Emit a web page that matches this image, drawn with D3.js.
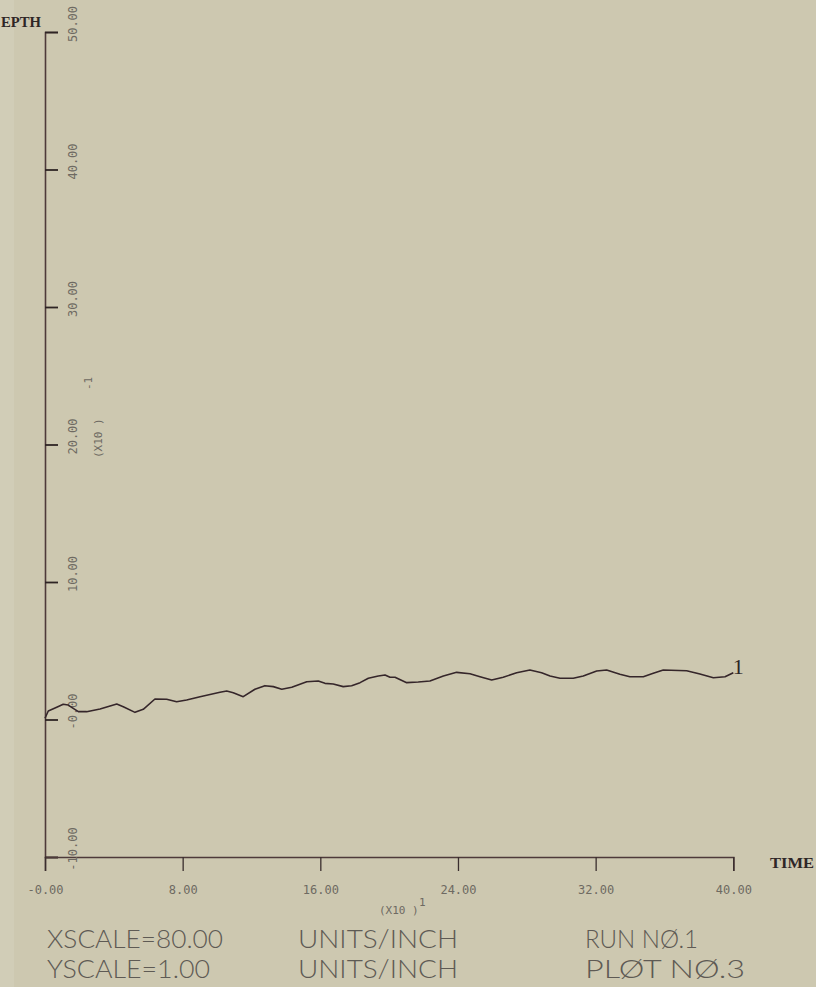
<!DOCTYPE html>
<html><head><meta charset="utf-8">
<script src="https://cdn.jsdelivr.net/npm/d3@7"></script>
<style>
html,body{margin:0;padding:0;background:#cdc8b0;}
svg{display:block;}
</style></head>
<body>
<script>
// ---- data ----
const xTickValues = [0, 8, 16, 24, 32, 40];
const xTickLabels = ["-0.00", "8.00", "16.00", "24.00", "32.00", "40.00"];
const yTickValues = [-10, 0, 10, 20, 30, 40, 50];
const yTickLabels = ["-10.00", "-0.00", "10.00", "20.00", "30.00", "40.00", "50.00"];
const seriesTime = [0, 0.19, 0.68, 1.06, 1.35, 1.64, 1.94, 2.42, 3.20, 4.17, 4.55, 5.23, 5.71, 6.39, 7.07, 7.65, 8.23, 9.01,
  10.17, 10.56, 10.94, 11.52, 12.20, 12.78, 13.27, 13.76, 14.34, 15.21, 15.88, 16.27, 16.75, 17.33, 17.82, 18.31, 18.79,
  19.37, 19.76, 20.05, 20.34, 21.02, 21.69, 22.37, 23.15, 23.92, 24.70, 25.28, 25.96, 26.63, 27.41, 28.18, 28.86, 29.35,
  29.93, 30.70, 31.28, 32.06, 32.64, 33.41, 33.99, 34.77, 35.35, 35.93, 37.29, 38.06, 38.84, 39.52, 40.0];
const seriesDepth = [0.09, 0.62, 0.89, 1.11, 1.05, 0.81, 0.57, 0.57, 0.76, 1.13, 0.93, 0.52, 0.74, 1.49, 1.47, 1.29, 1.42, 1.66,
  1.98, 2.07, 1.95, 1.66, 2.20, 2.46, 2.39, 2.20, 2.34, 2.75, 2.80, 2.63, 2.58, 2.39, 2.46, 2.68, 3.00,
  3.16, 3.24, 3.07, 3.07, 2.68, 2.73, 2.80, 3.16, 3.43, 3.33, 3.11, 2.87, 3.07, 3.40, 3.60, 3.40, 3.16,
  3.00, 3.00, 3.16, 3.53, 3.60, 3.29, 3.11, 3.11, 3.36, 3.60, 3.55, 3.31, 3.04, 3.11, 3.40];
const yAxisTitle = "EPTH";
const xAxisTitle = "TIME";
const yMultiplier = ["(X10 )", "-1"];
const xMultiplier = ["(X10 )", "1"];
const curveLabel = "1";
const footerRow1 = ["XSCALE=80.00", "UNITS/INCH", "RUN NØ.1"];
const footerRow2 = ["YSCALE=1.00", "UNITS/INCH", "PLØT NØ.3"];

// ---- drawing ----
const W = 816, H = 987;
const svg = d3.select("body").append("svg").attr("width", W).attr("height", H);
svg.append("rect").attr("width", W).attr("height", H).attr("fill", "#cdc8b0");
// scanned-paper lighter strip on the left
svg.append("rect").attr("x", 0).attr("y", 0).attr("width", 14).attr("height", H).attr("fill", "#d4d0bd").attr("opacity", 0.6);

const x = d3.scaleLinear().domain([0, 40]).range([45, 733.3]);
const y = d3.scaleLinear().domain([-10, 50]).range([857, 32]);

const axisColor = "#4e3a3a";
const labelColor = "#6e6a62";

// y axis (ticks pointing inward)
const gy = svg.append("g").attr("transform", "translate(45,0)")
  .call(d3.axisRight(y).tickValues(yTickValues).tickSize(13).tickSizeOuter(13).tickFormat(""));
gy.select(".domain").attr("stroke", axisColor).attr("stroke-width", 1.6);
gy.selectAll(".tick line").attr("stroke", "#2e2424").attr("stroke-width", 1.8);

// x axis (ticks pointing down)
const gx = svg.append("g").attr("transform", "translate(0,857)")
  .call(d3.axisBottom(x).tickValues(xTickValues).tickSize(14).tickSizeOuter(14).tickPadding(14)
    .tickFormat((d, i) => xTickLabels[i]));
gx.select(".domain").attr("stroke", axisColor).attr("stroke-width", 1.6);
gx.selectAll(".tick line").attr("stroke", "#3a2e2e").attr("stroke-width", 1.3);
gx.selectAll(".tick text").attr("fill", labelColor).attr("font-family", "DejaVu Sans Mono, monospace")
  .attr("font-size", 12);

// y tick labels, rotated
svg.append("g").selectAll("text").data(yTickValues).join("text")
  .attr("transform", d => `translate(73,${y(d) - 8}) rotate(-90)`)
  .attr("text-anchor", "middle").attr("dominant-baseline", "central")
  .attr("font-family", "DejaVu Sans Mono, monospace").attr("font-size", 12)
  .attr("fill", labelColor)
  .text((d, i) => yTickLabels[i]);

// y multiplier
svg.append("text").attr("transform", "translate(98,458) rotate(-90)")
  .attr("dominant-baseline", "central").attr("font-family", "DejaVu Sans Mono, monospace")
  .attr("font-size", 11).attr("fill", labelColor).text(yMultiplier[0]);
svg.append("text").attr("transform", "translate(88,390) rotate(-90)")
  .attr("dominant-baseline", "central").attr("font-family", "DejaVu Sans Mono, monospace")
  .attr("font-size", 11).attr("fill", labelColor).text(yMultiplier[1]);

// x multiplier
svg.append("text").attr("x", 379).attr("y", 914).attr("font-family", "DejaVu Sans Mono, monospace")
  .attr("font-size", 11).attr("fill", labelColor).text(xMultiplier[0]);
svg.append("text").attr("x", 419).attr("y", 906).attr("font-family", "DejaVu Sans Mono, monospace")
  .attr("font-size", 11).attr("fill", labelColor).text(xMultiplier[1]);

// axis titles
svg.append("text").attr("x", 1).attr("y", 27).attr("font-family", "Liberation Serif, serif")
  .attr("font-weight", "bold").attr("font-size", 15).attr("fill", "#2e2626")
  .attr("textLength", 40).attr("lengthAdjust", "spacingAndGlyphs").text(yAxisTitle);
svg.append("text").attr("x", 770).attr("y", 868).attr("font-family", "Liberation Serif, serif")
  .attr("font-weight", "bold").attr("font-size", 15).attr("fill", "#2e2626")
  .attr("textLength", 44).attr("lengthAdjust", "spacingAndGlyphs").text(xAxisTitle);

// curve
const pts = seriesTime.map((t, i) => [t, seriesDepth[i]]);
svg.append("path").datum(pts)
  .attr("fill", "none").attr("stroke", "#35262a").attr("stroke-width", 1.6).attr("stroke-linejoin", "round")
  .attr("d", d3.line().x(d => x(d[0])).y(d => y(d[1])));
const last = pts[pts.length - 1];
svg.append("text").attr("x", x(last[0]) + 5).attr("y", y(last[1]) + 1)
  .attr("text-anchor", "middle").attr("font-family", "Liberation Serif, serif")
  .attr("font-size", 22).attr("fill", "#2e2626").text(curveLabel);

// footer
const footX = [47, 298, 585];
const footW1 = [176, 160, 113];
const footW2 = [163, 160, 160];
function footer(row, yy, widths) {
  svg.append("g").selectAll("text").data(row).join("text")
    .attr("x", (d, i) => footX[i]).attr("y", yy)
    .attr("font-family", "Lato, Noto Sans, sans-serif").attr("font-weight", 300)
    .attr("font-size", 26).attr("fill", "#5e5a54")
    .attr("textLength", (d, i) => widths[i]).attr("lengthAdjust", "spacingAndGlyphs")
    .text(d => d);
}
footer(footerRow1, 948, footW1);
footer(footerRow2, 978, footW2);
</script>
</body></html>
